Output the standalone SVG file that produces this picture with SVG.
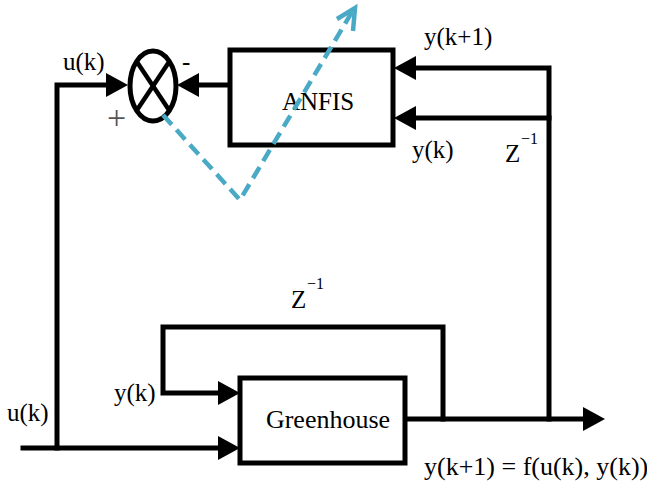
<svg xmlns="http://www.w3.org/2000/svg" width="647" height="481" viewBox="0 0 647 481">
<style>
.ln{fill:none;stroke:#000;stroke-width:5;stroke-linejoin:miter;stroke-linecap:square}
.box{fill:#fff;stroke:#000;stroke-width:5}
text{font-family:'Liberation Serif','Times New Roman','DejaVu Serif',serif;fill:#000}
.t{font-size:25px}
.big{font-size:26px}
.sup{font-size:16px}
.plus{font-size:34px;fill:#555}
.dash{fill:none;stroke:#4aaac6;stroke-width:4.5;stroke-dasharray:13 7}
</style>
<defs>
<marker id="ah" markerUnits="userSpaceOnUse" markerWidth="22" markerHeight="24" refX="0" refY="12" orient="auto" viewBox="0 0 22 24">
<path d="M0,0 L22,12 L0,24 z" fill="#000"/>
</marker>
</defs>
<rect width="647" height="481" fill="#fff"/>
<g id="connectors">
<polyline class="ln" points="23,448 57,448 57,85 106,85" marker-end="url(#ah)"/>
<line class="ln" x1="57" y1="448" x2="218" y2="448" marker-end="url(#ah)"/>
<line class="ln" x1="230" y1="85" x2="199" y2="85" marker-end="url(#ah)"/>
<polyline class="ln" points="405,419 583,419" marker-end="url(#ah)"/>
<polyline class="ln" points="549,419 549,68 416,68" marker-end="url(#ah)"/>
<line class="ln" x1="549" y1="118" x2="416" y2="118" marker-end="url(#ah)"/>
<polyline class="ln" points="443,419 443,327 163,327 163,393 218,393" marker-end="url(#ah)"/>
</g>
<g id="sum">
<ellipse cx="153" cy="86" rx="23" ry="35" fill="#fff" stroke="#000" stroke-width="5"/>
<line x1="137" y1="62" x2="169" y2="110" stroke="#000" stroke-width="4.5"/>
<line x1="169" y1="62" x2="137" y2="110" stroke="#000" stroke-width="4.5"/>
<text class="t" x="182" y="70">-</text>
<text class="plus" x="107" y="129">+</text>
</g>
<g id="anfis">
<rect class="box" x="230" y="50" width="163" height="95"/>
<text class="t" x="318" y="110" text-anchor="middle">ANFIS</text>
</g>
<g id="greenhouse">
<rect class="box" x="240" y="378" width="165" height="85"/>
<text class="big" x="328" y="428" text-anchor="middle">Greenhouse</text>
</g>
<g id="labels">
<text class="t" x="63" y="70">u(k)</text>
<text class="t" x="424" y="45">y(k+1)</text>
<text class="t" x="412" y="158">y(k)</text>
<text class="t" x="505" y="162">Z</text>
<text class="sup" x="521" y="144">−1</text>
<text class="t" x="291" y="308">Z</text>
<text class="sup" x="307" y="289">−1</text>
<text class="t" x="114" y="401">y(k)</text>
<text class="t" x="7" y="421">u(k)</text>
<text class="big" x="424" y="475">y(k+1) = f(u(k), y(k))</text>
</g>
<g id="dashed-arrow">
<polyline class="dash" points="163,115 240,200 352,12"/>
<polyline points="337,19 355,8 353,31" fill="none" stroke="#4aaac6" stroke-width="4.5"/>
</g>
</svg>
